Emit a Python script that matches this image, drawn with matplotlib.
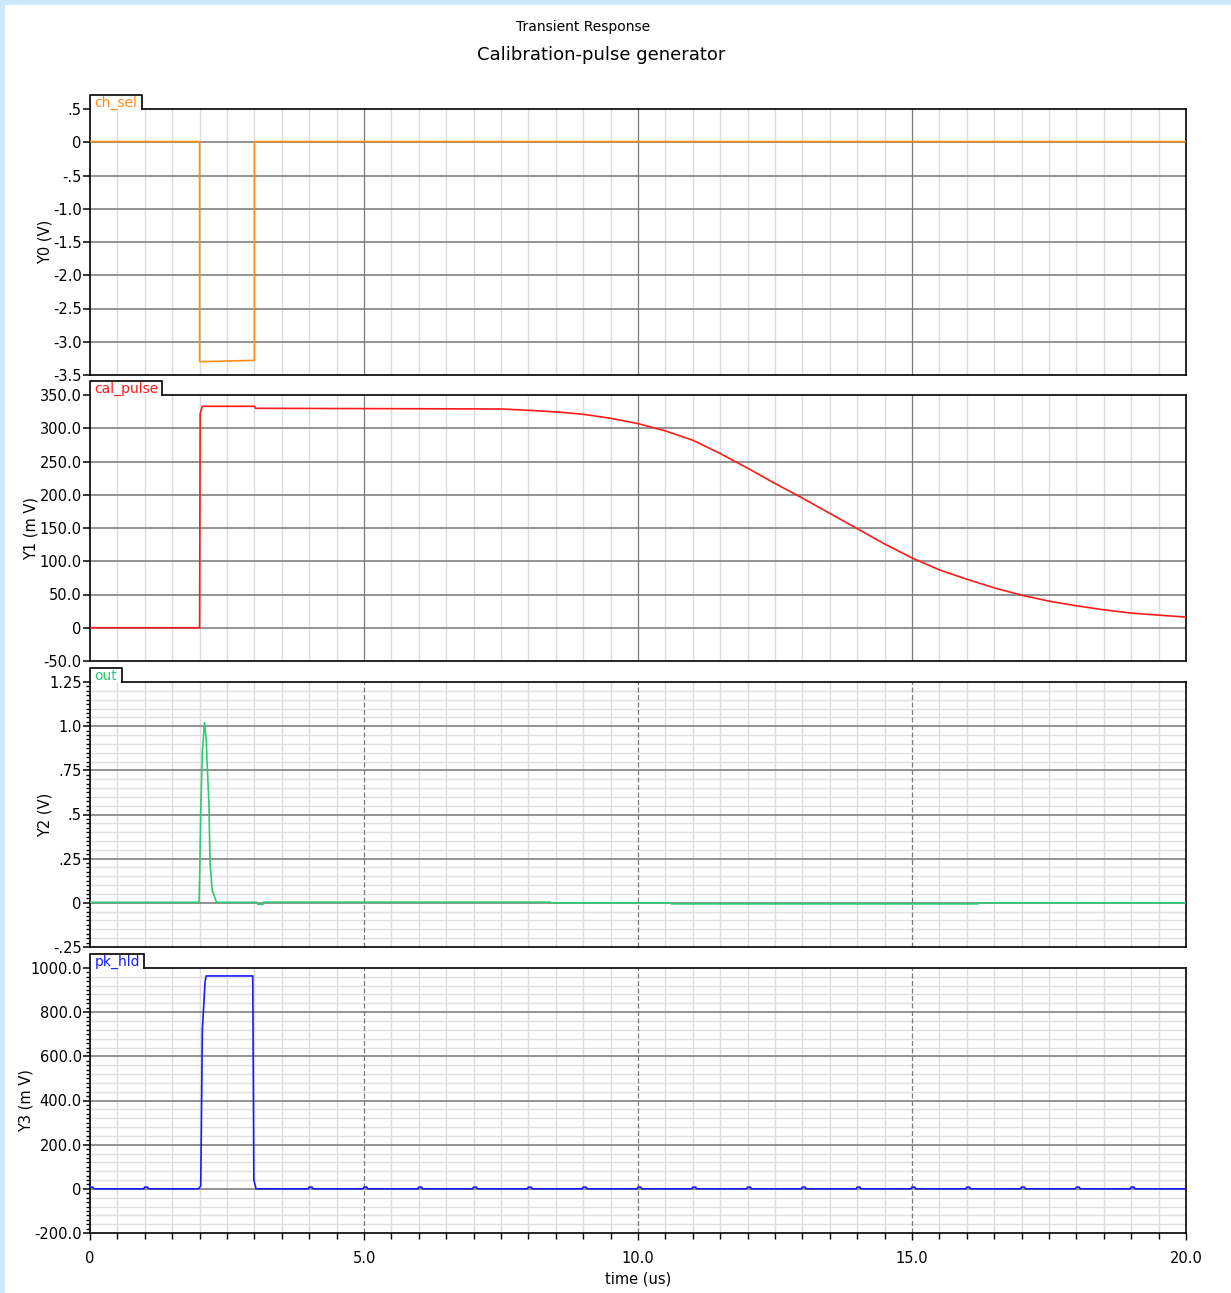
import matplotlib
matplotlib.use("Agg")
import matplotlib.pyplot as plt
from matplotlib.ticker import MultipleLocator, FixedLocator
from matplotlib.patches import Rectangle

plt.rcParams['font.family'] = ['DejaVu Sans Condensed', 'DejaVu Sans']

# ---- data ----
ch_sel_t = [0, 2.0, 2.0, 3.0, 3.0, 20.0]
ch_sel_v = [0.01, 0.01, -3.30, -3.28, 0.01, 0.01]

cal_t = [0, 2.0, 2.01, 2.05, 3.0, 3.02, 7.5, 8.0, 8.6, 9.0, 9.5, 10.0, 10.5,
         11.0, 11.5, 12.0, 12.5, 13.0, 13.5, 14.0, 14.5, 15.0, 15.5, 16.0,
         16.5, 17.0, 17.5, 18.0, 18.5, 19.0, 19.5, 20.0]
cal_v = [0, 0, 322, 333, 333, 330, 329, 327, 324, 321, 315, 307, 296,
         282, 262, 240, 217, 195, 172, 149, 126, 105, 87, 73,
         60, 49, 40, 33, 27, 22, 19, 16]

out_t = [0, 1.99, 2.0, 2.02, 2.05, 2.09, 2.12, 2.14, 2.17, 2.19, 2.23, 2.31,
         3.05, 3.06, 3.16, 3.17, 8.4, 8.41, 10.6, 10.61, 16.2, 16.21, 20.0]
out_v = [0.003, 0.003, 0.13, 0.5, 0.855, 1.02, 0.93, 0.77, 0.565, 0.23, 0.07, 0.003,
         0.003, -0.008, -0.008, 0.004, 0.004, 0.0, 0.0, -0.006, -0.006, 0.0, 0.0]

pk_t = [0, 0.05, 0.07, 0.98, 1.0, 1.05, 1.07, 1.98, 2.02, 2.03, 2.05, 2.10,
        2.12, 2.97, 2.99, 3.03, 20.0]
pk_v = [8, 8, 0, 0, 8, 8, 0, 0, 12, 226, 719, 938,
        964, 964, 40, 0, 0]
pk_blips = [4, 5, 6, 7, 8, 9, 10, 11, 12, 13, 14, 15, 16, 17, 18, 19]
pk_blip_height = 8

panel_names = ["ch_sel", "cal_pulse", "out", "pk_hld"]
panel_colors = ["#ff8c1a", "#ff1a1a", "#2ecc71", "#1a1aff"]
y_titles = ["Y0 (V)", "Y1 (m V)", "Y2 (V)", "Y3 (m V)"]
y_ticks = [
    [0.5, 0, -0.5, -1.0, -1.5, -2.0, -2.5, -3.0, -3.5],
    [350, 300, 250, 200, 150, 100, 50, 0, -50],
    [1.25, 1.0, 0.75, 0.5, 0.25, 0, -0.25],
    [1000, 800, 600, 400, 200, 0, -200],
]
y_ticklabels = [
    [".5", "0", "-.5", "-1.0", "-1.5", "-2.0", "-2.5", "-3.0", "-3.5"],
    ["350.0", "300.0", "250.0", "200.0", "150.0", "100.0", "50.0", "0", "-50.0"],
    ["1.25", "1.0", ".75", ".5", ".25", "0", "-.25"],
    ["1000.0", "800.0", "600.0", "400.0", "200.0", "0", "-200.0"],
]
x_ticks = [0, 5, 10, 15, 20]
x_ticklabels = ["0", "5.0", "10.0", "15.0", "20.0"]


def with_blips(t, v, blips, h):
    pts = list(zip(t, v))
    for b in blips:
        pts += [(b - 0.02, 0), (b, h), (b + 0.05, h), (b + 0.07, 0)]
    pts.sort(key=lambda p: p[0])
    return [p[0] for p in pts], [p[1] for p in pts]


pk_tt, pk_vv = with_blips(pk_t, pk_v, pk_blips, pk_blip_height)
series = [(ch_sel_t, ch_sel_v), (cal_t, cal_v), (out_t, out_v), (pk_tt, pk_vv)]

W, H = 1231, 1293
fig = plt.figure(figsize=(W / 100, H / 100), dpi=100)
fig.patch.set_facecolor("white")
# light blue window border (top and left)
fig.patches.append(Rectangle((0, 1 - 5 / H), 1, 5 / H, transform=fig.transFigure,
                             facecolor="#cce9fb", edgecolor="none"))
fig.patches.append(Rectangle((0, 0), 5 / W, 1, transform=fig.transFigure,
                             facecolor="#cce9fb", edgecolor="none"))

fig.text(583 / W, 1 - 27 / H, "Transient Response", ha="center", va="center", fontsize=10)
fig.text(601 / W, 1 - 55 / H, "Calibration-pulse generator", ha="center", va="center", fontsize=13)

tops = [109, 395, 682, 968]
bottoms = [375, 661, 947, 1233]
tab_w = [52, 72, 32, 54]
ylabel_x = [45, 31, 45, 26]
minor_tick = [None, None, 0.025, 20]
minor_grid = [None, None, 0.05, 40]
left, right = 90, 1186

for i in range(4):
    ax = fig.add_axes([left / W, 1 - bottoms[i] / H, (right - left) / W, (bottoms[i] - tops[i]) / H])
    t, v = series[i]
    ylo, yhi = y_ticks[i][-1], y_ticks[i][0]
    ax.set_xlim(0, 20)
    ax.set_ylim(ylo, yhi)

    # grid
    for x in [k * 0.5 for k in range(1, 40)]:
        if x % 5 != 0:
            ax.axvline(x, color="#dcdcdc", lw=1.0, zorder=0)
    if minor_grid[i]:
        step = minor_grid[i]
        n = int(round((yhi - ylo) / step))
        for k in range(1, n):
            y = ylo + k * step
            if all(abs(y - m) > 1e-9 for m in y_ticks[i]):
                ax.axhline(y, color="#e0e0e0", lw=1.0, zorder=0)
    for y in y_ticks[i][1:-1]:
        ax.axhline(y, color="#8a8a8a", lw=1.3, zorder=1)
    for x in [5, 10, 15]:
        ax.axvline(x, color="#7a7a7a", lw=0.9, zorder=1,
                   linestyle="-" if i < 2 else (0, (4, 2)))

    ax.plot(t, v, color=panel_colors[i], lw=1.2, zorder=3)

    ax.yaxis.set_major_locator(FixedLocator(y_ticks[i]))
    ax.set_yticklabels(y_ticklabels[i], fontsize=10.5)
    ax.tick_params(axis="y", direction="out", length=5, width=1.1, pad=1)
    if minor_tick[i]:
        ax.yaxis.set_minor_locator(MultipleLocator(minor_tick[i]))
        ax.tick_params(axis="y", which="minor", direction="out", length=3, width=1.0)

    if i == 3:
        ax.set_xticks(x_ticks)
        ax.set_xticklabels(x_ticklabels, fontsize=10.5)
        ax.xaxis.set_minor_locator(MultipleLocator(0.5))
        ax.tick_params(axis="x", which="both", direction="out", length=5, width=1.0, pad=8)
        ax.tick_params(axis="x", which="minor", length=4)
        ax.set_xlabel("time (us)", fontsize=10.5, labelpad=4)
    else:
        ax.set_xticks([])

    for s in ax.spines.values():
        s.set_linewidth(1.2)
        s.set_color("black")
    tw = tab_w[i] / (right - left)
    th = 14 / (bottoms[i] - tops[i])
    ax.spines["top"].set_bounds(tw * 20, 20)
    ax.plot([0, 0, tw, tw], [1, 1 + th, 1 + th, 1], transform=ax.transAxes,
            color="black", lw=1.2, clip_on=False, solid_joinstyle="miter")
    ax.text(0.004, 1 + th * 0.45, panel_names[i], transform=ax.transAxes,
            color=panel_colors[i], fontsize=10, ha="left", va="center")

    fig.text(ylabel_x[i] / W, 1 - (tops[i] + bottoms[i]) / 2 / H, y_titles[i],
             rotation=90, ha="center", va="center", fontsize=10.5)

fig.savefig("out.png", dpi=100)
